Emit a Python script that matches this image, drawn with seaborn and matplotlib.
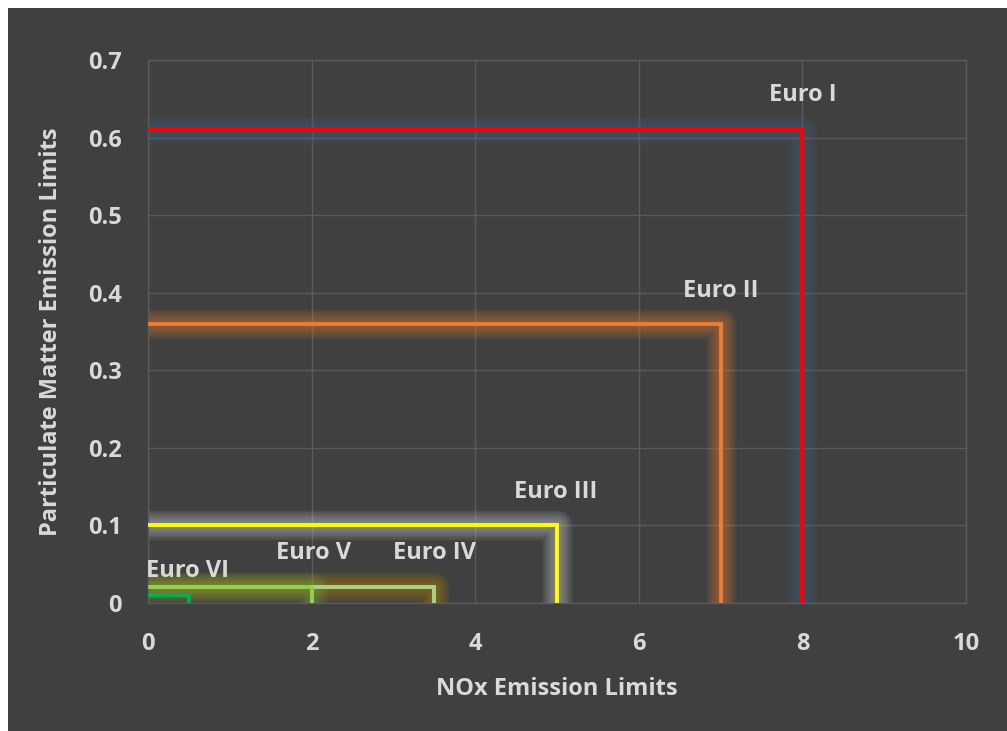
import matplotlib
matplotlib.use("Agg")
import matplotlib.pyplot as plt
import seaborn as sns
import pandas as pd
import numpy as np

# Euro emission standards (NOx vs PM limits)
stages = ["Euro I", "Euro II", "Euro III", "Euro IV", "Euro V", "Euro VI"]
nox = [8.0, 7.0, 5.0, 3.5, 2.0, 0.5]
pm = [0.61, 0.36, 0.10, 0.02, 0.02, 0.01]
line_colors = ["#ff0000", "#ed7d31", "#ffff00", "#a9d18e", "#92d050", "#00b050"]
glow_colors = ["#4f6488", "#ed7d31", "#d9d9d9", "#bf9000", "#70ad47", None]
label_x = [8.0, 7.0, 4.98, 3.5, 2.02, 0.48]
label_y = [0.655, 0.402, 0.143, 0.064, 0.064, 0.041]

bg = "#404040"
txt = "#d9d9d9"

sns.set_style("darkgrid")
plt.rcParams["font.family"] = ["Open Sans", "DejaVu Sans"]

fig = plt.figure(figsize=(10.07, 7.31), dpi=100, facecolor="white")
fig.patches.append(plt.Rectangle((8 / 1007, 0), 1, 1 - 8 / 731, transform=fig.transFigure,
                                 facecolor=bg, edgecolor="none", zorder=-10))
ax = fig.add_axes([148 / 1007, 1 - 603 / 731, (966 - 148) / 1007, (603 - 60) / 731])
ax.set_zorder(1)
ax.set_facecolor(bg)

# soft glow: many wide, faint strokes
glow_widths = np.linspace(22, 4, 9)
for i, name in enumerate(stages):
    df = pd.DataFrame({"x": [0, nox[i], nox[i]], "y": [pm[i], pm[i], 0]})
    if glow_colors[i] is not None:
        for w in glow_widths:
            sns.lineplot(data=df, x="x", y="y", sort=False, estimator=None, ax=ax,
                         color=glow_colors[i], linewidth=w, alpha=0.065,
                         solid_joinstyle="round", solid_capstyle="butt", zorder=2)
    sns.lineplot(data=df, x="x", y="y", sort=False, estimator=None, ax=ax,
                 color=line_colors[i], linewidth=2.8,
                 solid_joinstyle="miter", solid_capstyle="butt", zorder=3)
    ax.text(label_x[i], label_y[i], name, ha="center", va="center", color=txt,
            fontsize=17, fontweight="bold", zorder=4)

ax.set_xlim(0, 10)
ax.set_ylim(0, 0.7)
ax.set_xticks(np.arange(0, 11, 2))
ax.set_yticks(np.arange(0, 0.71, 0.1))
ax.set_xticklabels([str(v) for v in range(0, 11, 2)])
ax.set_yticklabels(["0"] + ["%.1f" % v for v in np.arange(0.1, 0.71, 0.1)])
ax.grid(True, color="#5a5a5a", linewidth=1)
for s in ax.spines.values():
    s.set_visible(True)
    s.set_color("#5a5a5a")
    s.set_linewidth(1)
ax.tick_params(colors=txt, labelsize=17, length=0, pad=21)
ax.tick_params(axis="y", pad=19)
for lab in ax.get_xticklabels() + ax.get_yticklabels():
    lab.set_fontweight("bold")
ax.set_xlabel("NOx Emission Limits", color=txt, fontsize=17, fontweight="bold", labelpad=15)
ax.set_ylabel("Particulate Matter Emission Limits", color=txt, fontsize=17, fontweight="bold", labelpad=18)

fig.savefig("out.png", dpi=100, facecolor=fig.get_facecolor())
